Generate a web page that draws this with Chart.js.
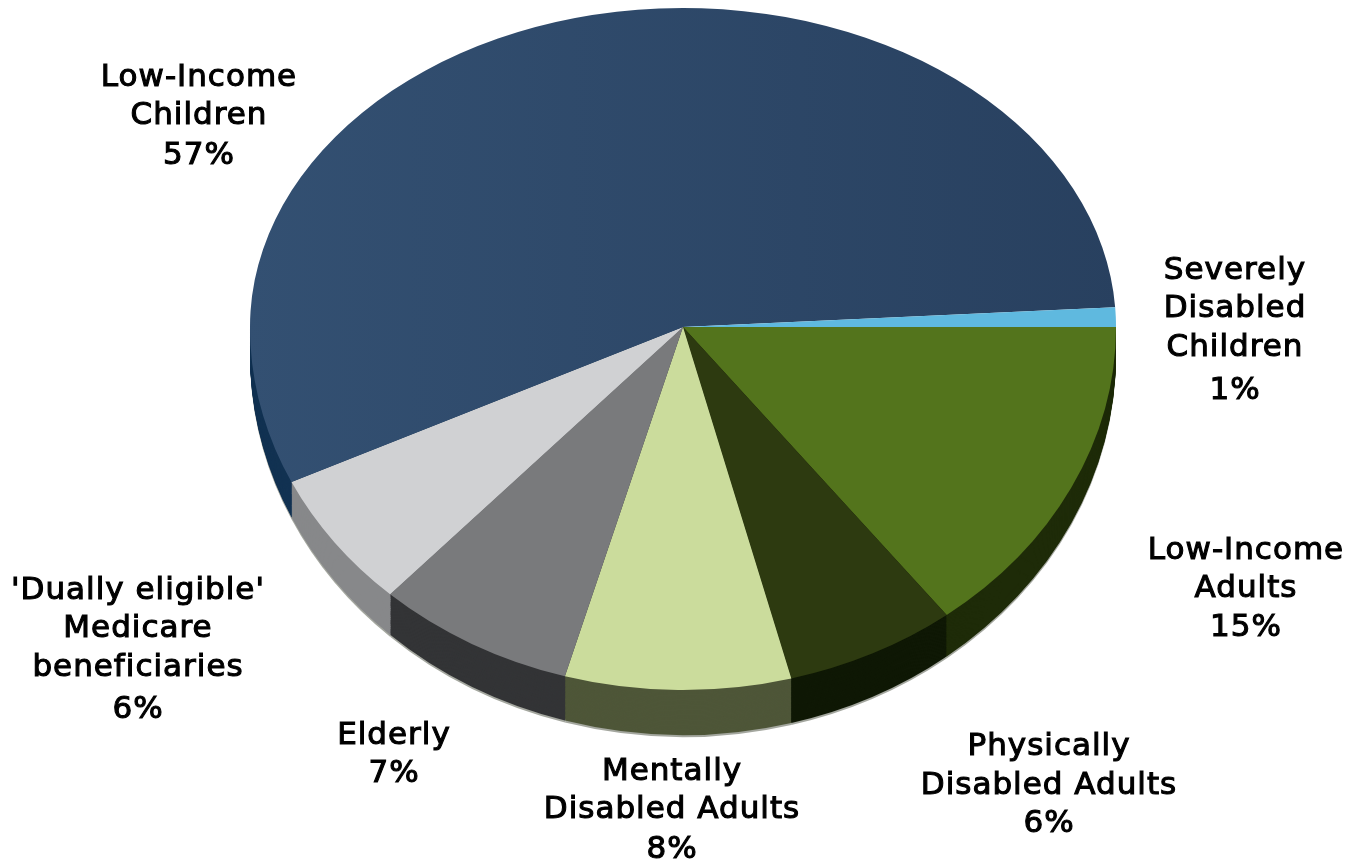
<!DOCTYPE html>
<html>
<head>
<meta charset="utf-8">
<title>Medicaid enrollment pie</title>
<script src="https://cdn.jsdelivr.net/npm/chart.js@4/dist/chart.umd.min.js"></script>
<style>
  html, body { margin: 0; padding: 0; background: #fff; }
  canvas { display: block; }
</style>
</head>
<body>
<canvas id="pie" width="1357" height="864"></canvas>
<script>
// clockwise from 3 o'clock
const categories = [
  ['Low-Income', 'Adults'],
  ['Physically', 'Disabled Adults'],
  ['Mentally', 'Disabled Adults'],
  ['Elderly'],
  ["'Dually eligible'", 'Medicare', 'beneficiaries'],
  ['Low-Income', 'Children'],
  ['Severely', 'Disabled', 'Children']
];
// shares, they round to the printed percents
const shares = [14.7, 6.45, 8.49, 7.49, 6.2, 56.5, 1.0];

const topColors = ['#53741c', '#2d3a10', '#cbdc9c', '#797a7c', '#d0d1d3', '#2f4c6e', '#5fb9df'];
const sideColors = ['#1e2b08', '#0f1805', '#4e5638', '#333436', '#87888a', '#123252', '#3b7ea0'];

// label anchors: centre x and the y of each line
const labelSpots = [
  { x: 1246, y: [550, 588, 627] },
  { x: 1049, y: [746, 785, 823] },
  { x: 672, y: [771, 809, 849] },
  { x: 394, y: [735, 773] },
  { x: 138, y: [590, 628, 667, 709] },
  { x: 199, y: [77, 115, 155] },
  { x: 1235, y: [270, 308, 347, 390] }
];

// the tilted pie: apex, half width, back and front heights, wall drop
const apexX = 683, apexY = 327, rx = 433, ryBack = 319, ryFront = 363;
const wallDrop = 28, wallGrow = 17, wallSteps = 36;

const canvas = document.getElementById('pie');
const ctx = canvas.getContext('2d');

const navy = ctx.createLinearGradient(240, 0, 1120, 0);
navy.addColorStop(0, '#335072');
navy.addColorStop(1, '#28405f');
const fills = topColors.slice();
fills[5] = navy;

function tilt(c, chart, drop, ry) {
  const first = chart.getDatasetMeta(0).data[0];
  const R = first.outerRadius;
  c.translate(apexX, apexY + drop);
  c.scale(rx / R, ry / R);
  c.translate(-first.x, -first.y);
}

function band(c, top, height) {
  c.beginPath();
  c.rect(0, top, 1357, height);
  c.clip();
}

function fillWedge(c, arc, color) {
  const p = arc.getProps(['x', 'y', 'startAngle', 'endAngle', 'outerRadius'], true);
  c.fillStyle = color;
  c.beginPath();
  c.moveTo(p.x, p.y);
  c.arc(p.x, p.y, p.outerRadius, p.startAngle, p.endAngle);
  c.closePath();
  c.fill();
}

const tiltedPie = {
  id: 'tiltedPie',
  beforeDatasetsDraw(chart) {
    const c = chart.ctx;
    const arcs = chart.getDatasetMeta(0).data;

    // wall, front half only
    c.save();
    band(c, apexY, 864 - apexY);
    c.save();
    tilt(c, chart, wallDrop + 2, ryFront + wallGrow);
    arcs.forEach(a => fillWedge(c, a, '#a4a79f'));
    c.restore();
    for (let i = wallSteps; i >= 0; i--) {
      const t = i / wallSteps;
      c.save();
      tilt(c, chart, wallDrop * t, ryFront + wallGrow * t);
      arcs.forEach((a, k) => fillWedge(c, a, sideColors[k]));
      c.restore();
    }
    c.restore();

    // top face: the front half is stretched more than the back
    c.save();
    band(c, 0, apexY);
    tilt(c, chart, 0, ryBack);
    arcs.forEach(a => a.draw(c));
    c.restore();

    c.save();
    band(c, apexY, 864 - apexY);
    tilt(c, chart, 0, ryFront);
    arcs.forEach(a => a.draw(c));
    c.restore();

    return false;
  },
  afterDraw(chart) {
    const c = chart.ctx;
    c.save();
    c.font = '31px "DejaVu Sans"';
    c.letterSpacing = '1px';
    c.textAlign = 'center';
    c.textBaseline = 'middle';
    c.fillStyle = '#000';
    c.strokeStyle = '#000';
    c.lineWidth = 1.1;
    categories.forEach((lines, k) => {
      const spot = labelSpots[k];
      lines.concat(Math.round(shares[k]) + '%').forEach((txt, n) => {
        c.fillText(txt, spot.x, spot.y[n] + 1);
        c.strokeText(txt, spot.x, spot.y[n] + 1);
      });
    });
    c.restore();
  }
};

new Chart(ctx, {
  type: 'pie',
  data: {
    labels: categories.map(l => l.join(' ')),
    datasets: [{
      data: shares,
      backgroundColor: fills,
      borderWidth: 0
    }]
  },
  options: {
    responsive: false,
    animation: false,
    rotation: 90,
    plugins: {
      legend: { display: false },
      tooltip: { enabled: false }
    }
  },
  plugins: [tiltedPie]
});
</script>
</body>
</html>
